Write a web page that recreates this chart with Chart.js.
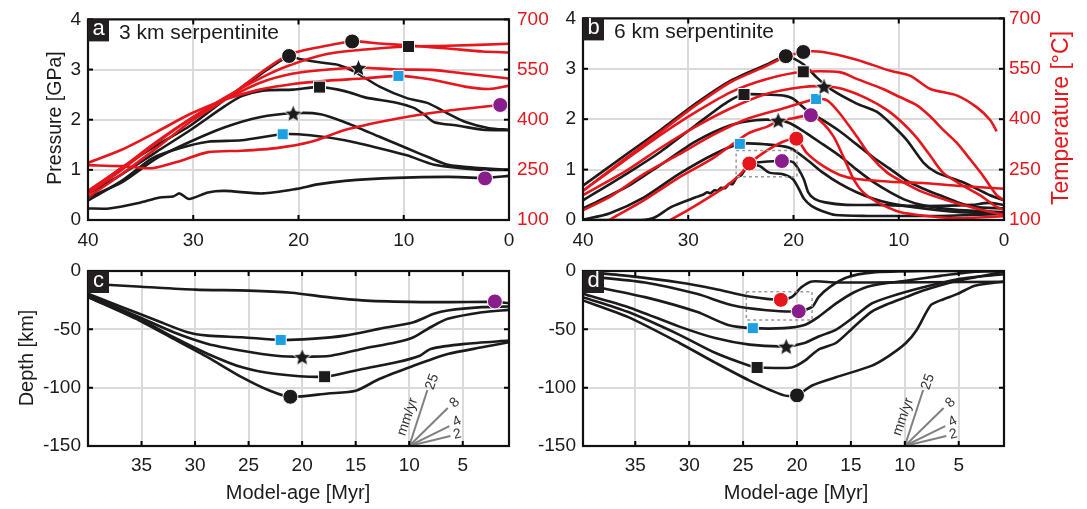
<!DOCTYPE html>
<html>
<head>
<meta charset="utf-8">
<script src="https://cdn.jsdelivr.net/npm/chart.js@4.4.0/dist/chart.umd.min.js"></script>
<style>
  html, body { margin: 0; padding: 0; background: #fff; }
  #wrap { position: relative; width: 1087px; height: 509px; overflow: hidden; }
  canvas { position: absolute; }
</style>
</head>
<body>
<div id="wrap">
  <canvas id="pa" width="560" height="252" style="left:0;top:0"></canvas>
  <canvas id="pb" width="557" height="252" style="left:530px;top:0"></canvas>
  <canvas id="pc" width="530" height="257" style="left:0;top:252px"></canvas>
  <canvas id="pd" width="557" height="257" style="left:530px;top:252px"></canvas>
</div>
<script>
// ---- tick values
const ageTicksAB = [0, 10, 20, 30, 40];
const ageTicksCD = [5, 10, 15, 20, 25, 30, 35];
const pTicks = [0, 1, 2, 3, 4];
const tTicks = [100, 250, 400, 550, 700];
const depthTicks = [-150, -100, -50, 0];

// ---- panel a : pressure [GPa] (black) and temperature [C] (red) vs model age [Myr]
const aCircleP = [[40,0.55],[36.8,1.04],[33.5,1.49],[30.3,1.88],[27,2.4],[23.7,2.89],[20.9,3.27],[19.9,3.21],[17.5,3.13],[16.2,3.09],[14.6,2.95],[12.3,2.66],[9.7,2.43],[7.7,2.33],[5.8,2.12],[4.2,1.96],[1.9,1.83],[0,1.8]];
const aSquareP = [[40,0.52],[36.8,0.91],[33.5,1.36],[30.3,1.79],[27,2.27],[25.4,2.47],[23.4,2.58],[20.5,2.6],[18,2.65],[15.6,2.57],[13.6,2.44],[10.7,2.34],[9.1,2.24],[8.1,2.11],[7.1,1.95],[4.8,1.88],[2.5,1.8],[0,1.79]];
const aStarP = [[40,0.45],[36.8,0.75],[33.5,1.23],[30.3,1.56],[27,1.85],[23.7,2.05],[20.5,2.13],[17.9,2.11],[15.6,1.95],[12.3,1.66],[9.7,1.43],[7.4,1.23],[5.8,1.1],[3.2,1.04],[0,1.0]];
const aBlueP = [[40,0.39],[36.8,0.78],[33.9,1.23],[31.3,1.43],[28.6,1.56],[25.4,1.59],[21.5,1.71],[18.9,1.69],[15.6,1.59],[12.3,1.43],[9.7,1.29],[7.1,1.1],[4.8,1.04],[2.5,1.0],[0,1.0]];
const aPurpleP = [[40,0.23],[38,0.23],[35.2,0.34],[33.2,0.45],[31.9,0.47],[31.3,0.53],[30.4,0.42],[28.6,0.55],[27,0.58],[23.4,0.53],[20.2,0.62],[18.2,0.71],[15.6,0.78],[10.7,0.84],[5.8,0.86],[2.28,0.84],[0,0.88]];

const aCircleT = [[40,168],[36.8,237],[33.5,315],[30.3,393],[27,460],[23.7,538],[20.9,595],[18.2,616],[14.9,634],[12.3,628],[9.1,621],[5.8,613],[2.5,604],[0,601]];
const aSquareT = [[40,178],[36.8,250],[33.5,330],[30.3,402],[27,466],[23.7,523],[20.9,562],[17.2,597],[14,609],[9.55,619],[5.8,621],[0,627]];
const aStarT = [[40,187],[36.8,256],[33.5,334],[30.3,402],[27,460],[23.7,510],[20.5,538],[17.2,550],[14.3,556],[10.7,550],[7.4,549],[4.2,538],[0,523]];
const aBlueT = [[40,271],[36.8,310],[33.5,363],[30.3,417],[27,460],[23.7,490],[20.5,507],[17.2,517],[14,523],[10.5,531],[7.4,520],[4.2,499],[1.9,492],[0,502]];
const aPurpleT = [[40,264],[36.8,261],[33.9,255],[31.3,276],[28.6,303],[25.4,307],[22.1,315],[18.9,333],[15.6,369],[12.3,393],[9.1,412],[5.8,427],[0.83,444]];

// markers (peak P on black lines, peak T on red lines)
const aMkP = { circle: [[20.9,3.27]], square: [[18,2.65]], star: [[20.5,2.13]], blue: [[21.5,1.71]], purple: [[2.28,0.83]] };
const aMkT = { circle: [[14.9,634]], square: [[9.55,619]], star: [[14.3,556]], blue: [[10.5,531]], purple: [[0.83,444]] };

// ---- panel b
const bCircleP = [[40,0.68],[35.9,1.3],[32.6,1.79],[29.3,2.31],[26,2.76],[22.6,3.08],[20.73,3.25],[19.06,3.09],[17.8,2.83],[16.5,2.6],[14,2.31],[12.1,2.15],[10.8,1.92],[9.25,1.59],[7.66,1.14],[6.4,0.94],[3.9,0.75],[1.33,0.49],[0,0.39]];
const bSquareP = [[40,0.39],[35.9,0.91],[32.6,1.36],[29.3,1.88],[26.3,2.34],[24.7,2.49],[22.9,2.49],[21,2.47],[20.05,2.41],[18.75,2.18],[17.2,1.98],[15.6,1.76],[14,1.5],[12.4,1.24],[10.8,1.01],[9.25,0.78],[7.66,0.62],[6.1,0.49],[4.5,0.36],[2.9,0.26],[0,0.23]];
const bStarP = [[40,0.23],[35.9,0.65],[32.6,1.1],[29.3,1.56],[26,1.88],[23.6,1.98],[21.45,1.98],[20.33,1.92],[18.75,1.72],[17.2,1.5],[15.6,1.27],[14,1.0],[12.4,0.75],[10.8,0.55],[9.25,0.39],[7.66,0.29],[4.5,0.2],[0,0.16]];
const bBlueP = [[40,0.01],[37.5,0.13],[34.2,0.45],[30.9,0.91],[27.6,1.3],[25.1,1.51],[22.6,1.5],[20.33,1.43],[18.75,1.2],[17.2,0.94],[15.6,0.72],[14,0.55],[12.4,0.42],[10.8,0.33],[7.66,0.23],[4.5,0.16],[0,0.13]];
const bPurpleP = [[40,0],[34.5,0],[33.2,0.05],[31.6,0.26],[29.3,0.45],[28.6,0.5],[28.2,0.55],[27.9,0.53],[27.5,0.59],[27.2,0.58],[26.9,0.64],[26.5,0.63],[26.1,0.72],[25.8,0.71],[25.4,0.84],[25,0.88],[24.6,1.0],[24.2,1.12],[23,1.15],[21.1,1.17],[20.05,1.15],[19.5,1.0],[19,0.8],[18.6,0.55],[18,0.42],[17,0.35],[15,0.3],[12,0.3],[9,0.28],[6,0.28],[3,0.3],[1.5,0.34],[0,0.3]];
const bRedP = [[24.2,1.12],[23.2,1.07],[22.3,0.94],[21,0.91],[20.05,0.81],[19.5,0.62],[19,0.42],[18.3,0.28],[17.3,0.18],[16,0.1],[13,0.08],[10,0.08],[6,0.08],[3,0.1],[0,0.12]];

const bCircleT = [[40,187],[35.9,285],[32.6,363],[29.3,441],[26,510],[22.6,558],[21,582],[19.07,600],[17.2,600],[14,577],[10.8,544],[8.9,529],[7,490],[4.5,471],[2.6,436],[1.3,397],[0.7,364]];
const bSquareT = [[40,187],[35.9,280],[32.6,354],[29.3,421],[26,480],[22.6,519],[19.07,541],[15.6,540],[14,520],[11.5,490],[9.9,466],[8.3,442],[7,408],[5.8,369],[4.5,330],[3.2,280],[2,232],[0.7,174],[0,159]];
const bStarT = [[40,174],[35.9,246],[32.6,315],[29.3,378],[26,432],[22.6,475],[19.3,495],[17.1,498],[15.3,490],[13.05,462],[11.1,427],[9.6,388],[8.3,345],[7,291],[5.8,241],[3.9,202],[2.3,174],[0.7,139],[0,130]];
const bBlueT = [[40,129],[37.5,168],[34.2,237],[30.9,295],[27.6,354],[24.3,402],[21,432],[17.85,460],[16.8,456],[15.6,417],[14,349],[12.7,291],[11.1,241],[9.6,213],[7.7,183],[4.5,150],[1.3,124],[0,115]];
const bPurpleT = [[37.5,100],[34.2,159],[30.9,226],[27.6,285],[24.3,358],[22.5,378],[21.45,394],[20,403],[18.35,412],[17.2,388],[16.2,349],[15.3,291],[14.3,222],[13.4,183],[12.1,154],[9.9,124],[7,111],[4.5,105],[0,111]];
const bRedT = [[31.7,100],[30,130],[28,168],[26.5,198],[25,238],[24.2,268],[22.5,307],[21,333],[19.73,342],[18.75,300],[17.2,261],[15.6,234],[14,222],[10.8,214],[7.7,210],[4.5,202],[0,193]];

const bMkP = { circle: [[20.73,3.25]], square: [[24.7,2.49]], star: [[21.45,1.98]], blue: [[25.1,1.51]], purple: [[21.1,1.17]], red: [[24.2,1.12]] };
const bMkT = { circle: [[19.07,600]], square: [[19.07,541]], star: [[17.1,498]], blue: [[17.85,460]], purple: [[18.35,412]], red: [[19.73,342]] };
const bBox = [[25.45,1.38],[19.67,1.38],[19.67,0.86],[25.45,0.86],[25.45,1.38]];

// ---- panel c : depth [km]
const cPurple = [[40,-10.9],[35,-13.5],[30,-16],[25,-16.8],[21,-18.6],[17.6,-22.4],[14.4,-25.2],[10,-26.5],[6,-26.7],[2,-26.5],[0.68,-27.5]];
const cBlue = [[40,-19.5],[36.8,-31],[33.6,-42.4],[30.7,-52.5],[28.8,-55.4],[25.6,-56.8],[22,-59.1],[19.2,-58.2],[16,-55.4],[12.8,-49.6],[9.6,-43.9],[7.7,-36.7],[6.4,-33.8],[3.2,-31],[0.68,-30.4]];
const cStar = [[40,-20.9],[35.2,-39.6],[32,-52.5],[28.8,-62.5],[25.6,-68.3],[22.4,-72.6],[20,-73.4],[17.3,-72.6],[14.4,-66.8],[11.2,-61.1],[9.6,-56.8],[8,-48.2],[6.4,-41],[3.2,-35.3],[0.68,-33.3]];
const cSquare = [[40,-22.4],[35.2,-41],[32,-56.8],[28.8,-71.1],[25.6,-82.6],[22.4,-88.3],[17.9,-90.6],[14.4,-84],[11.2,-78.3],[9,-72.6],[8,-66.8],[4.8,-62.5],[0.68,-59.7]];
const cCircle = [[40,-22.4],[35.2,-42.4],[32,-58.2],[28.8,-74],[25.6,-91.2],[23,-102.7],[21.1,-107.8],[17.6,-105],[15,-102.7],[12.8,-92.6],[9.6,-81.2],[8.3,-76.9],[6.4,-71.1],[3.2,-65.4],[0.68,-61.1]];
const cMk = { circle: [[21.1,-107.8]], square: [[17.9,-90.6]], star: [[20,-73.4]], blue: [[22,-59.1]], purple: [[2.0,-26.1]] };

// ---- panel d
const dRed = [[39.85,-0.6],[35.7,-4.2],[30.9,-9.8],[27.6,-15.4],[24.4,-21.9],[21.5,-24.7],[20.5,-22.4],[19.6,-14],[18.6,-9],[16.4,-9.8],[13.1,-9.8],[8.3,-9.6],[0.8,-9.3]];
const dPurple = [[39.85,-4.2],[34.1,-9.8],[29.3,-19.6],[26,-29.4],[22.8,-33.6],[19.84,-34.5],[18.6,-30.8],[18,-22.4],[17,-14],[15.4,-5.6],[13.1,-1.4],[8.3,0],[0.8,0]];
const dBlue = [[39.85,-11.2],[34.1,-22.4],[29.3,-35],[26.4,-46.3],[24.1,-49],[21.2,-49],[19.3,-46.3],[18,-39.3],[16.4,-28],[14.7,-18.2],[13.1,-12.6],[9.9,-8.4],[6.7,-4.2],[3.5,-0.6],[0.8,0]];
const dStar = [[39.85,-19.6],[35.7,-30.8],[30.9,-47.7],[27.6,-57.5],[24.4,-63.1],[21,-64.5],[19.3,-61.7],[18,-56.1],[16.4,-50.5],[14.7,-39.3],[13.1,-28],[11.5,-22.4],[8.3,-14],[5.1,-7],[0.8,-2.8]];
const dSquare = [[39.85,-22.4],[35.7,-35],[30.9,-54.7],[27.6,-70.1],[24.4,-81.3],[23.7,-82.7],[20.5,-82.7],[19.3,-77.1],[18,-67.3],[16.4,-61.7],[14.7,-47.7],[13.1,-35],[11.5,-28],[9.9,-22.4],[8.3,-16.8],[5.1,-8.4],[0.8,-0.6]];
const dCircle = [[39.85,-25.2],[35.7,-39.3],[30.9,-61.7],[27.6,-78.5],[24.4,-93.9],[21.2,-106.6],[20,-106.6],[18.6,-98.1],[16.4,-91.1],[13.1,-81.3],[11.5,-72.9],[9.9,-61.7],[8.9,-50.5],[7.6,-29.4],[6.7,-25.2],[5.1,-19.6],[3.5,-12.6],[0.8,-9]];
const dMk = { circle: [[20,-106.6]], square: [[23.7,-82.7]], star: [[21,-64.5]], blue: [[24.1,-49]], purple: [[19.84,-34.5]], red: [[21.5,-24.7]] };
const dBox = [[24.7,-17.7],[18.6,-17.7],[18.6,-42],[24.7,-42],[24.7,-17.7]];

// ---- velocity fan (mm/yr) in c and d
const fanRates = ['25', '8', '4', '2'];
const fanOrigin = [10, -150];
const fanEndAge = [8.3, 6.4, 6.25, 6.15];
const fanEndDepth = [-102, -117.5, -133, -141.5];
const fanLabelAge = [7.85, 5.75, 5.55, 5.5];
const fanLabelDepth = [-95, -113, -129, -140];
const fanLabelRot = [-71, -45, -27, -14];

// ---- style
const FONT = '"Liberation Sans", Arial, Helvetica, sans-serif';
const INK = '#1c1a1b', RED = '#e5161c', PURPLE = '#8a1d8c', BLUE = '#1e9fe2', GRID = '#dadada', FANC = '#808080';
Chart.defaults.font.family = FONT;
Chart.defaults.font.size = 19;
Chart.defaults.color = INK;
Chart.defaults.animation = false;
Chart.defaults.events = [];

function starImg(size) {
  const c = document.createElement('canvas');
  c.width = c.height = size;
  const g = c.getContext('2d');
  const cx = size / 2, r = size / 2 - 1, ri = r * 0.45;
  g.beginPath();
  for (let i = 0; i < 10; i++) {
    const a = -Math.PI / 2 + i * Math.PI / 5, rr = i % 2 ? ri : r;
    g.lineTo(cx + rr * Math.cos(a), cx + 1 + rr * Math.sin(a));
  }
  g.closePath();
  g.fillStyle = INK; g.fill();
  g.strokeStyle = '#fff'; g.lineWidth = 1; g.stroke();
  return c;
}
const STAR = starImg(21);

const pts = arr => arr.map(([x, y]) => ({ x, y }));
function line(arr, color, axis) {
  return { data: pts(arr), borderColor: color, borderWidth: 2.6, pointRadius: 0, tension: 0.25, yAxisID: axis, fill: false };
}
function box(arr, axis) {
  return { data: pts(arr), borderColor: '#9a9a9a', borderWidth: 1.5, borderDash: [3, 3], pointRadius: 0, tension: 0, yAxisID: axis };
}
const MK = {
  circle: { style: 'circle', color: INK, r: 7.5 },
  square: { style: 'rect', color: INK, r: 8.5 },
  star: { style: STAR, color: INK, r: 9 },
  blue: { style: 'rect', color: BLUE, r: 7.8 },
  purple: { style: 'circle', color: PURPLE, r: 7.5 },
  red: { style: 'circle', color: RED, r: 7.5 }
};
function marks(set, axis) {
  return Object.keys(set).map(k => ({
    data: pts(set[k]), showLine: false, pointStyle: MK[k].style, pointRadius: MK[k].r,
    pointBackgroundColor: MK[k].color, pointBorderColor: '#fff', pointBorderWidth: 1, yAxisID: axis, clip: false
  }));
}
function fan() {
  return fanRates.map((r, i) => ({
    data: pts([fanOrigin, [fanEndAge[i], fanEndDepth[i]]]), borderColor: FANC, borderWidth: 2, pointRadius: 0, tension: 0, yAxisID: 'y'
  }));
}

function ageAxis(min, max, ticks, h, pad) {
  return {
    type: 'linear', position: 'bottom', min, max, reverse: true,
    afterBuildTicks: s => { s.ticks = ticks.map(v => ({ value: v })); },
    afterFit: s => { s.height = h; },
    grid: { color: GRID, lineWidth: 2, drawTicks: false },
    border: { display: false },
    ticks: { padding: pad, autoSkip: false, maxRotation: 0, color: INK }
  };
}
function valAxis(pos, min, max, ticks, w, pad, color, showGrid) {
  return {
    type: 'linear', position: pos, min, max,
    afterBuildTicks: s => { s.ticks = ticks.map(v => ({ value: v })); },
    afterFit: s => { s.width = w; },
    grid: { display: showGrid, color: GRID, lineWidth: 2, drawTicks: false },
    border: { display: false },
    ticks: { padding: pad, autoSkip: false, color }
  };
}

const deco = {
  id: 'deco',
  afterDatasetsDraw(chart, args, o) {
    const { ctx, chartArea: ca } = chart;
    ctx.save();
    ctx.strokeStyle = '#000';
    ctx.lineWidth = 2;
    Object.values(chart.scales).forEach(s => {
      s.ticks.forEach(t => {
        const p = s.getPixelForValue(t.value);
        ctx.beginPath();
        if (s.isHorizontal()) {
          ctx.moveTo(p, ca.bottom); ctx.lineTo(p, ca.bottom - 5);
          ctx.moveTo(p, ca.top); ctx.lineTo(p, ca.top + 5);
        } else if (s.position === 'left') {
          ctx.moveTo(ca.left, p); ctx.lineTo(ca.left + 5, p);
          if (o.bothY) { ctx.moveTo(ca.right, p); ctx.lineTo(ca.right - 5, p); }
        } else {
          ctx.moveTo(ca.right, p); ctx.lineTo(ca.right - 5, p);
        }
        ctx.stroke();
      });
    });
    ctx.lineWidth = 2.2;
    ctx.strokeStyle = '#111';
    ctx.strokeRect(ca.left, ca.top, ca.right - ca.left, ca.bottom - ca.top);

    // panel letter
    ctx.fillStyle = '#231f20';
    ctx.fillRect(ca.left, ca.top, 21, 22);
    ctx.fillStyle = '#fff';
    ctx.font = '22px ' + FONT;
    ctx.textAlign = 'center';
    ctx.textBaseline = 'middle';
    ctx.fillText(o.letter, ca.left + 10.5, ca.top + 10);
    if (o.title) {
      ctx.fillStyle = INK;
      ctx.font = '21px ' + FONT;
      ctx.textAlign = 'left';
      ctx.fillText(o.title, ca.left + 31, ca.top + 14);
    }

    // axis titles
    (o.texts || []).forEach(t => {
      ctx.save();
      ctx.translate(t.x, t.y);
      ctx.rotate(t.rot || 0);
      ctx.font = t.font + ' ' + FONT;
      ctx.fillStyle = t.color || INK;
      ctx.textAlign = 'center';
      ctx.textBaseline = 'middle';
      ctx.fillText(t.text, 0, 0);
      ctx.restore();
    });

    // fan labels
    if (o.fan) {
      const sx = chart.scales.x, sy = chart.scales.y;
      ctx.fillStyle = '#333';
      ctx.font = '14px ' + FONT;
      ctx.textAlign = 'center';
      ctx.textBaseline = 'middle';
      const put = (txt, a, d, rot) => {
        ctx.save();
        ctx.translate(sx.getPixelForValue(a), sy.getPixelForValue(d));
        ctx.rotate(rot * Math.PI / 180);
        ctx.fillText(txt, 0, 0);
        ctx.restore();
      };
      fanRates.forEach((r, i) => put(r, fanLabelAge[i], fanLabelDepth[i], fanLabelRot[i]));
      put('mm/yr', 10.15, -125, -71);
    }
    ctx.restore();
  }
};

function make(id, datasets, scales, padding, decoOpts) {
  return new Chart(document.getElementById(id), {
    type: 'line',
    data: { datasets },
    options: {
      responsive: false,
      layout: { padding, autoPadding: false },
      scales,
      plugins: { legend: { display: false }, tooltip: { enabled: false }, deco: decoOpts }
    },
    plugins: [deco]
  });
}

// ---- panel a
make('pa', [
  ...marks(aMkP, 'yP'), ...marks(aMkT, 'yT'),
  line(aCircleT, RED, 'yT'), line(aSquareT, RED, 'yT'), line(aStarT, RED, 'yT'), line(aBlueT, RED, 'yT'), line(aPurpleT, RED, 'yT'),
  line(aCircleP, INK, 'yP'), line(aSquareP, INK, 'yP'), line(aStarP, INK, 'yP'), line(aBlueP, INK, 'yP'), line(aPurpleP, INK, 'yP')
], {
  x: ageAxis(0, 40, ageTicksAB, 32, 9),
  yP: valAxis('left', 0, 4, pTicks, 88, 7, INK, true),
  yT: valAxis('right', 100, 700, tTicks, 51, 8, RED, false)
}, { top: 15, left: 0, right: 0, bottom: 0 }, {
  letter: 'a', title: '3 km serpentinite',
  texts: [{ text: 'Pressure [GPa]', x: 56, y: 118, rot: -Math.PI / 2, font: '19.5px' }]
});

// ---- panel b
make('pb', [
  ...marks(bMkP, 'yP'), ...marks(bMkT, 'yT'),
  box(bBox, 'yP'),
  line(bCircleT, RED, 'yT'), line(bSquareT, RED, 'yT'), line(bStarT, RED, 'yT'), line(bBlueT, RED, 'yT'), line(bPurpleT, RED, 'yT'), line(bRedT, RED, 'yT'),
  line(bCircleP, INK, 'yP'), line(bSquareP, INK, 'yP'), line(bStarP, INK, 'yP'), line(bBlueP, INK, 'yP'), line(bPurpleP, INK, 'yP'), line(bRedP, INK, 'yP')
], {
  x: ageAxis(0, 40, ageTicksAB, 32, 9),
  yP: valAxis('left', 0, 4, pTicks, 53, 7, INK, true),
  yT: valAxis('right', 100, 700, tTicks, 83, 5, RED, false)
}, { top: 15, left: 0, right: 0, bottom: 0 }, {
  letter: 'b', title: '6 km serpentinite',
  texts: [{ text: 'Temperature [°C]', x: 532, y: 118, rot: -Math.PI / 2, font: '23px', color: RED }]
});

// ---- panel c
make('pc', [
  ...marks(cMk, 'y'),
  line(cPurple, INK, 'y'), line(cBlue, INK, 'y'), line(cStar, INK, 'y'), line(cSquare, INK, 'y'), line(cCircle, INK, 'y'),
  ...fan()
], {
  x: ageAxis(0.68, 40, ageTicksCD, 63, 8),
  y: valAxis('left', -150, 0, depthTicks, 88, 7, INK, true)
}, { top: 19, left: 0, right: 21, bottom: 0 }, {
  letter: 'c', bothY: true, fan: true,
  texts: [
    { text: 'Depth [km]', x: 27, y: 106, rot: -Math.PI / 2, font: '20px' },
    { text: 'Model-age [Myr]', x: 298, y: 241, font: '20px' }
  ]
});

// ---- panel d
make('pd', [
  ...marks(dMk, 'y'),
  box(dBox, 'y'),
  line(dRed, INK, 'y'), line(dPurple, INK, 'y'), line(dBlue, INK, 'y'), line(dStar, INK, 'y'), line(dSquare, INK, 'y'), line(dCircle, INK, 'y'),
  ...fan()
], {
  x: ageAxis(0.8, 39.85, ageTicksCD, 63, 8),
  y: valAxis('left', -150, 0, depthTicks, 53, 7, INK, true)
}, { top: 19, left: 0, right: 83, bottom: 0 }, {
  letter: 'd', bothY: true, fan: true,
  texts: [{ text: 'Model-age [Myr]', x: 266, y: 241, font: '20px' }]
});
</script>
</body>
</html>
